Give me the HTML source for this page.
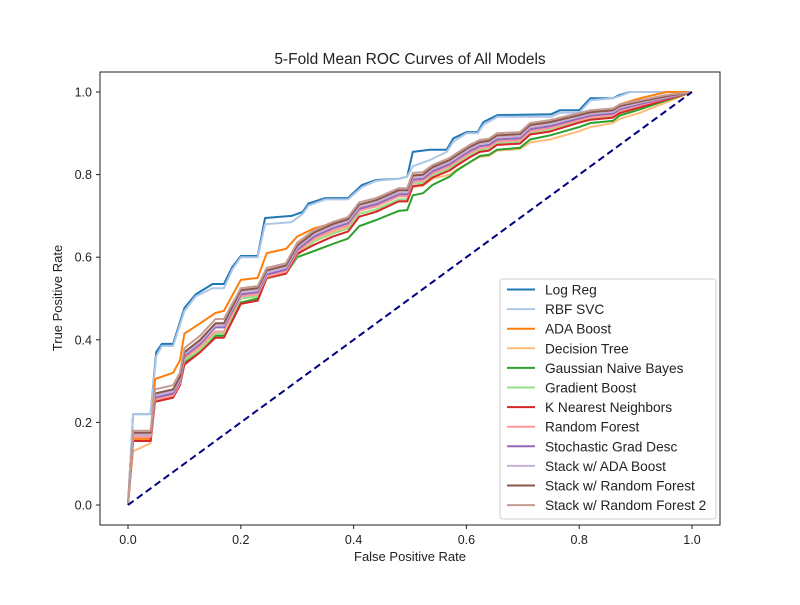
<!DOCTYPE html>
<html><head><meta charset="utf-8"><style>
body{margin:0;background:#fff;}
svg text{font-family:"Liberation Sans","DejaVu Sans",sans-serif;fill:#222;}
</style></head><body>
<svg id="chart" width="800" height="600" viewBox="0 0 800 600" xmlns="http://www.w3.org/2000/svg">
<rect width="800" height="600" fill="#fff"/>
<text x="410" y="64" font-size="15.5" text-anchor="middle">5-Fold Mean ROC Curves of All Models</text>
<g id="plot"></g>
<text x="410" y="561" font-size="13" text-anchor="middle">False Positive Rate</text>
<text transform="translate(62,298) rotate(-90)" font-size="13" text-anchor="middle">True Positive Rate</text>
</svg>
<script>
const names=["Log Reg","RBF SVC","ADA Boost","Decision Tree","Gaussian Naive Bayes","Gradient Boost","K Nearest Neighbors","Random Forest","Stochastic Grad Desc","Stack w/ ADA Boost","Stack w/ Random Forest","Stack w/ Random Forest 2"];
const colors=["#1f77b4","#aec7e8","#ff7f0e","#ffbb78","#2ca02c","#98df8a","#d62728","#ff9896","#9467bd","#c5b0d5","#8c564b","#c49c94"];
const xTicks=[0,0.2,0.4,0.6,0.8,1.0];
const yTicks=[0,0.2,0.4,0.6,0.8,1.0];
const fprLR=[0,.009,.04,.05,.06,.08,.1,.12,.15,.17,.185,.2,.23,.243,.29,.31,.32,.35,.39,.415,.44,.48,.495,.505,.535,.565,.577,.6,.62,.63,.655,.75,.766,.8,.82,.86,.872,.89,1];
const tprLogReg=[0,.22,.22,.37,.39,.39,.477,.51,.535,.535,.576,.603,.603,.695,.70,.71,.73,.743,.743,.775,.787,.79,.795,.855,.86,.86,.888,.903,.903,.927,.944,.946,.956,.956,.985,.985,.993,1,1];
const tprRBF=[0,.22,.22,.36,.385,.385,.47,.505,.525,.525,.57,.6,.6,.68,.685,.705,.725,.74,.74,.77,.785,.79,.795,.82,.835,.855,.88,.9,.9,.92,.94,.94,.95,.95,.98,.985,.99,1,1];
const fpr=[0,.009,.04,.048,.08,.092,.1,.128,.155,.17,.2,.23,.246,.28,.3,.33,.363,.39,.41,.44,.48,.495,.505,.523,.54,.57,.583,.606,.624,.64,.654,.695,.713,.748,.8,.82,.86,.872,.908,.955,1];
const tprADA=[0,.16,.16,.305,.32,.35,.415,.44,.465,.47,.545,.55,.61,.62,.65,.67,.682,.69,.72,.73,.755,.757,.795,.797,.813,.83,.842,.862,.875,.878,.89,.893,.915,.922,.942,.95,.958,.97,.985,1,1];
const tprDT=[0,.13,.15,.255,.265,.3,.35,.38,.42,.42,.5,.505,.548,.56,.61,.64,.66,.672,.705,.715,.735,.738,.77,.773,.79,.8,.812,.83,.843,.845,.858,.862,.878,.885,.905,.915,.925,.935,.95,.975,1];
const tprGNB=[0,.165,.165,.255,.265,.29,.345,.375,.41,.41,.49,.5,.55,.56,.6,.615,.632,.645,.675,.69,.712,.714,.75,.755,.775,.795,.81,.83,.845,.848,.86,.865,.885,.895,.915,.925,.93,.943,.958,.98,1];
const tprGB=[0,.165,.165,.25,.26,.29,.35,.375,.415,.415,.5,.505,.548,.56,.605,.638,.657,.669,.705,.716,.74,.74,.778,.78,.798,.815,.827,.847,.859,.862,.875,.878,.9,.907,.928,.935,.94,.951,.965,.983,1];
const tprKNN=[0,.155,.155,.25,.26,.29,.34,.37,.405,.405,.487,.495,.55,.56,.608,.63,.65,.662,.698,.71,.735,.735,.772,.775,.793,.81,.822,.842,.855,.858,.872,.875,.897,.904,.926,.933,.938,.949,.963,.982,1];
const tprRF=[0,.165,.165,.255,.265,.295,.355,.385,.42,.42,.505,.51,.553,.565,.613,.645,.665,.677,.712,.723,.747,.747,.783,.785,.803,.82,.832,.852,.864,.867,.88,.883,.905,.912,.932,.939,.944,.955,.968,.985,1];
const tprSGD=[0,.17,.17,.26,.27,.30,.36,.39,.43,.43,.51,.515,.558,.57,.618,.65,.67,.682,.717,.728,.752,.752,.788,.79,.808,.825,.837,.857,.869,.872,.885,.888,.91,.917,.936,.943,.948,.958,.971,.986,1];
const tprStackADA=[0,.17,.17,.265,.275,.305,.365,.395,.435,.435,.515,.52,.563,.575,.623,.655,.675,.687,.722,.733,.757,.757,.793,.795,.813,.83,.842,.862,.874,.877,.89,.893,.915,.922,.94,.947,.952,.962,.974,.988,1];
const tprStackRF=[0,.175,.175,.27,.28,.31,.37,.40,.44,.44,.52,.525,.568,.58,.628,.66,.68,.692,.727,.738,.762,.762,.798,.8,.818,.835,.847,.867,.879,.882,.895,.898,.92,.927,.944,.951,.956,.966,.977,.99,1];
const tprStackRF2=[0,.18,.18,.28,.29,.32,.38,.41,.45,.45,.525,.53,.574,.585,.635,.666,.685,.697,.733,.743,.767,.767,.804,.806,.823,.84,.852,.872,.884,.887,.9,.903,.925,.932,.949,.956,.96,.97,.98,.993,1];

const NS="http://www.w3.org/2000/svg";
const g=document.getElementById('plot');
const X0=128,X1=692,Y0=505,Y1=92;
function sx(v){return X0+(X1-X0)*v;}
function sy(v){return Y0-(Y0-Y1)*v;}
function mk(tag,attrs,parent){const e=document.createElementNS(NS,tag);for(const k in attrs)e.setAttribute(k,attrs[k]);(parent||g).appendChild(e);return e;}

const frame=mk('rect',{x:100,y:72,width:620,height:453,fill:'none',stroke:'#222','stroke-width':1});


xTicks.forEach(t=>{
  const l=mk('line',{x1:sx(t),x2:sx(t),y1:525,y2:529,stroke:'#222'});
  
  
  const tx=mk('text',{x:sx(t),y:544,'font-size':12.5,'text-anchor':'middle'});
  tx.textContent=t.toFixed(1);
  
  
});
yTicks.forEach(t=>{
  const l=mk('line',{x1:96,x2:100,y1:sy(t),y2:sy(t),stroke:'#222'});
  
  
  const tx=mk('text',{x:92,y:sy(t)+4.5,'font-size':12.5,'text-anchor':'end'});
  tx.textContent=t.toFixed(1);
  
  
});
const series=[[fprLR,tprLogReg],[fprLR,tprRBF],[fpr,tprADA],[fpr,tprDT],[fpr,tprGNB],[fpr,tprGB],[fpr,tprKNN],[fpr,tprRF],[fpr,tprSGD],[fpr,tprStackADA],[fpr,tprStackRF],[fpr,tprStackRF2]];
series.forEach((s,i)=>{
  const n=Math.min(s[0].length,s[1].length);
  let d='';
  for(let k=0;k<n;k++)d+=(k?'L':'M')+sx(s[0][k]).toFixed(1)+','+sy(s[1][k]).toFixed(1);
  const p=mk('path',{d:d,fill:'none',stroke:colors[i],'stroke-width':2,'stroke-linejoin':'round'});
  
  
});
const diag=mk('line',{x1:sx(0),y1:sy(0),x2:sx(1),y2:sy(1),stroke:'#000080','stroke-width':2,'stroke-dasharray':'7,4'});



const lg=mk('g',{});


mk('rect',{x:500,y:279,width:216,height:240,rx:3,fill:'#fff','fill-opacity':0.85,stroke:'#ccc'},lg);
names.forEach((nm,i)=>{
  const y=289.5+i*19.6;
  const e=mk('g',{},lg);
  
  
  mk('line',{x1:507,x2:535,y1:y,y2:y,stroke:colors[i],'stroke-width':2},e);
  const t=mk('text',{x:545,y:y+5,'font-size':13.7},e);
  t.textContent=nm;
});
</script>
</body></html>
